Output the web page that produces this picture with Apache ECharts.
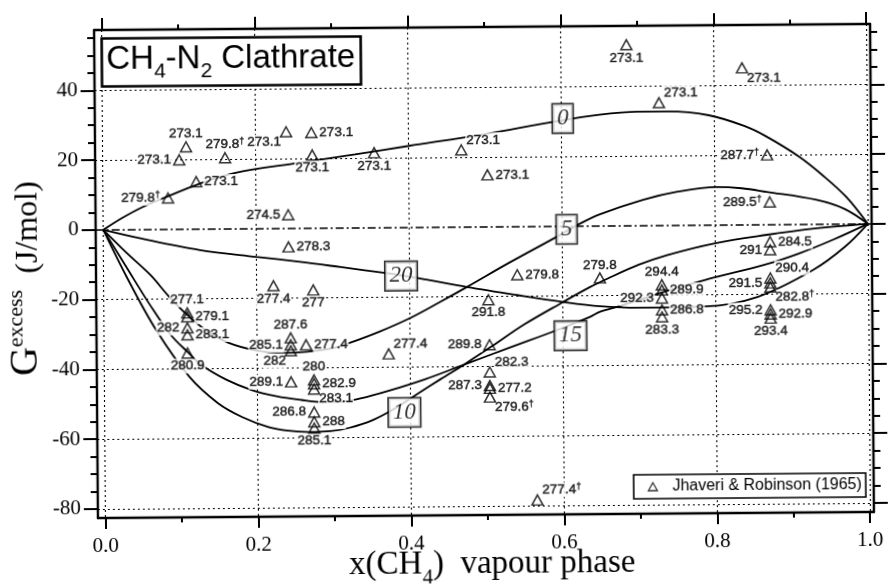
<!DOCTYPE html>
<html>
<head>
<meta charset="utf-8">
<title>CH4-N2 Clathrate</title>
<script src="https://cdn.jsdelivr.net/npm/echarts@6/dist/echarts.min.js"></script>
<style>
  html, body { margin: 0; padding: 0; background: #fff; }
  #chart { width: 888px; height: 585px; transform: rotate(-0.45deg); transform-origin: 485px 271px; }
</style>
</head>
<body>
<div id="chart"></div>
<script>
// ---- model curves: G excess vs vapour composition, one per temperature ----
const curve0 = [[0,0],[0.025,3.4],[0.052,6.5],[0.083,9.3],[0.125,12.9],[0.172,16.0],[0.257,18.8],[0.33,21.1],[0.401,23.4],[0.5,26.6],[0.588,29.9],[0.65,31.9],[0.7,32.7],[0.74,32.7],[0.793,31.5],[0.84,28.3],[0.868,25.3],[0.911,19.4],[0.94,14.3],[0.972,7.8],[1,0]];
const curve5 = [[0,0],[0.03,-6.6],[0.061,-13],[0.085,-19.2],[0.109,-24.6],[0.135,-29.3],[0.162,-32.6],[0.2,-35.0],[0.231,-35.7],[0.265,-35.4],[0.3,-34.4],[0.318,-33.2],[0.36,-29.8],[0.401,-25.9],[0.44,-21.4],[0.475,-17.2],[0.53,-10.4],[0.593,-3.0],[0.62,0.3],[0.649,3.3],[0.706,7.4],[0.75,9.6],[0.802,10.9],[0.835,10.5],[0.868,9.4],[0.933,7.0],[0.97,4.3],[1,0]];
const curve10 = [[0,0],[0.03,-13.5],[0.068,-28.8],[0.111,-42.3],[0.148,-49.9],[0.18,-54],[0.214,-56.9],[0.24,-58],[0.266,-58.4],[0.295,-58.2],[0.32,-57.3],[0.35,-55.2],[0.38,-51.8],[0.41,-47.6],[0.44,-43.5],[0.47,-39.5],[0.506,-34.4],[0.55,-28],[0.6,-21.8],[0.636,-17.5],[0.66,-15],[0.7,-11.2],[0.737,-8.5],[0.8,-5.2],[0.868,-2.9],[0.93,-1.2],[1,0]];
const curve15 = [[0,0],[0.03,-10.8],[0.06,-21.5],[0.087,-30.2],[0.109,-35.2],[0.126,-38.8],[0.16,-43.3],[0.192,-46.2],[0.225,-48.1],[0.257,-49.2],[0.285,-49.8],[0.309,-49.8],[0.335,-48.9],[0.37,-46.9],[0.42,-43.5],[0.47,-39.5],[0.53,-34.7],[0.593,-29.7],[0.636,-26.0],[0.649,-24.6],[0.675,-23.0],[0.73,-19.2],[0.787,-15.7],[0.866,-11.4],[0.91,-8.3],[0.955,-4.4],[1,0]];
const curve20 = [[0,0],[0.05,-2.6],[0.126,-6.0],[0.2,-8.1],[0.257,-9.6],[0.31,-11.2],[0.368,-13.0],[0.41,-14.5],[0.475,-17.2],[0.54,-19.6],[0.601,-21.7],[0.649,-23.0],[0.7,-23.5],[0.787,-23.3],[0.855,-20.7],[0.928,-13.1],[0.97,-6.5],[1,0]];

// curve captions (temperature) and where they sit on their curves
const tempNames = ['0', '5', '10', '15', '20'];
const tempX = [0.602, 0.606, 0.392, 0.61, 0.389];
const tempY = [30.9, -0.9, -53.0, -31.4, -13.9];

// ---- measurements: Jhaveri & Robinson (1965), labelled with T / K ----
const ptX = [0.109,0.100,0.160,0.240,0.122,0.085,0.273,0.274,0.355,0.469,0.503,0.686,0.837,0.728,0.869,0.872,
             0.242,0.242,0.222,0.274,0.109,0.109,0.109,0.109,0.109,0.244,0.244,0.244,0.264,0.244,
             0.274,0.274,0.274,0.274,0.274,0.274,0.372,0.541,0.503,0.504,0.504,0.504,0.504,0.504,0.565,
             0.649,0.730,0.730,0.730,0.730,0.730,0.872,0.872,0.872,0.872,0.872,0.872,0.872,0.872];
const ptY = [23.6,19.9,20.4,27.7,13.6,9.0,27.4,21.0,21.5,22.1,14.9,51.9,45.0,35.2,20.0,6.5,
             3.9,-5.3,-16.4,-17.7,-24.0,-25.1,-28.3,-30.3,-35.5,-31.4,-33.4,-35.1,-33.4,-44.0,
             -43.5,-44.6,-46.1,-52.7,-55.5,-57.3,-36.2,-13.8,-20.9,-33.8,-41.6,-45.5,-46.3,-48.8,-78.4,
             -14.9,-17.0,-18.5,-20.8,-24.2,-26.2,-4.9,-7.2,-15.3,-16.7,-17.9,-24.4,-25.6,-26.8];
const ptT = ['273.1','273.1','279.8†','273.1','273.1','279.8†','273.1','273.1','273.1','273.1','273.1','273.1','273.1','273.1','287.7†','289.5†',
             '274.5','278.3','277.4','277','277.1','279.1','282','283.1','280.9','287.6','285.1','282','277.4','289.1',
             '280','282.9','283.1','286.8','288','285.1','277.4','279.8','291.8','289.8','282.3','287.3','277.2','279.6†','277.4†',
             '279.8','294.4','289.9','292.3','286.8','283.3','284.5','291','290.4','291.5','282.8†','295.2','292.9','293.4'];
// which side of its triangle each temperature label is written on
const ptSide = ['top','left','top','bl','right','left','right','bottom','bottom','tr','right','bottom','br','tr','left','left',
                'left','right','bottom','bottom','top','right','left','right','bottom','top','left','bl','right','left',
                'top','right','br','left','right','bottom','tr','right','bottom','left','tr','left','right','br','tr',
                'top','top','right','left','right','bottom','right','left','tr','left','br','left','right','bottom'];

// axis ticks
const xRange = [-0.01, 1.005];
const yRange = [-82.6, 57.3];
const xMajor = [0, 0.2, 0.4, 0.6, 0.8, 1.0];
const xMinor = [0.1, 0.3, 0.5, 0.7, 0.9];
const yMajor = [-80, -60, -40, -20, 0, 20, 40];
const yMinor = [-75,-70,-65,-55,-50,-45,-35,-30,-25,-15,-10,-5,5,10,15,25,30,35,45,50,55];
const yGrid = [-80, -60, -40, -20, 20, 40];

const SERIF = '"Liberation Serif","Times New Roman",serif';
const SANS = '"Liberation Sans",Arial,Helvetica,sans-serif';
const INK = '#000';

const chart = echarts.init(document.getElementById('chart'), null, { renderer: 'canvas' });

function tickAxis(pos, range, ticks, len, opts) {
  opts = opts || {};
  return {
    type: 'value', position: pos, min: range[0], max: range[1],
    axisLine: { show: !!opts.line, onZero: false, lineStyle: { color: INK, width: 2.4 } },
    axisTick: { show: len > 0, customValues: ticks, length: len, inside: false, lineStyle: { color: INK, width: 2 } },
    axisLabel: opts.label ? Object.assign({ customValues: ticks, color: INK, fontFamily: SERIF, fontSize: 21 }, opts.label) : { show: false },
    splitLine: opts.split ? { show: true, lineStyle: opts.split } : { show: false },
    splitArea: { show: false }
  };
}

const dotted = { color: INK, width: 1.1, type: [2, 3] };
const dashDot = { color: INK, width: 1.5, type: [8, 3, 2, 3] };

const xAxes = [
  tickAxis('bottom', xRange, xMajor, 11, { line: true, label: { formatter: v => v.toFixed(1), margin: 18 }, split: dotted }),
  tickAxis('bottom', xRange, xMinor, 5),
  tickAxis('top', xRange, xMajor, 12, { line: true }),
  tickAxis('top', xRange, xMinor, 5)
];
const yAxes = [
  tickAxis('left', yRange, yMajor, 14, { line: true, label: { margin: 17 } }),
  tickAxis('left', yRange, yMinor, 7),
  tickAxis('right', yRange, yMajor, 14, { line: true }),
  tickAxis('right', yRange, yMinor, 7),
  tickAxis('left', yRange, yGrid, 0, { split: dotted }),
  tickAxis('left', yRange, [0], 0, { split: dashDot })
];

function curveSeries(data) {
  return {
    type: 'line', data: data, smooth: 0.35, showSymbol: false, silent: true, z: 2,
    lineStyle: { color: INK, width: 1.8 }, emphasis: { disabled: true }
  };
}

const placement = {
  right: { position: 'right', distance: 2 },
  left: { position: 'left', distance: 2 },
  top: { position: 'top', distance: 1 },
  bottom: { position: 'bottom', distance: 1 },
  tr: { position: [9, 2], align: 'left', verticalAlign: 'bottom' },
  br: { position: [9, 7], align: 'left', verticalAlign: 'top' },
  bl: { position: [1, 7], align: 'right', verticalAlign: 'top' },
  tl: { position: [1, 2], align: 'right', verticalAlign: 'bottom' }
};
function richLabel(t) {
  return t.endsWith('†') ? '{n|' + t.slice(0, -1) + '}{d|†}' : '{n|' + t + '}';
}

const labelData = ptX.map((x, i) => ({
  value: [x, ptY[i]],
  label: Object.assign({ show: true, formatter: richLabel(ptT[i]) }, placement[ptSide[i]])
}));
const pointData = ptX.map((x, i) => [x, ptY[i]]);

const option = {
  animation: false,
  backgroundColor: '#fff',
  grid: { left: 96, right: 16, top: 27, bottom: 70, containLabel: false },
  xAxis: xAxes,
  yAxis: yAxes,
  title: {
    text: '{a|CH}{s|4}{a|-N}{s|2}{a| Clathrate}',
    left: 103, top: 35,
    padding: [5, 6, 4, 5],
    borderColor: INK, borderWidth: 2.6, backgroundColor: '#fff',
    textStyle: {
      color: INK, fontWeight: 'normal',
      rich: {
        a: { fontFamily: SANS, fontSize: 33, fontWeight: 'normal', lineHeight: 38, color: INK, verticalAlign: 'top' },
        s: { fontFamily: SANS, fontSize: 21, fontWeight: 'normal', lineHeight: 21, color: INK, verticalAlign: 'top', padding: [19, 0, 0, 0] }
      }
    },
    z: 10
  },
  legend: {
    data: ['Jhaveri & Robinson (1965)'],
    left: 632, top: 476,
    padding: [4, 4, 4, 14],
    borderColor: INK, borderWidth: 1.6, backgroundColor: '#fff',
    icon: 'triangle', itemWidth: 9, itemHeight: 8,
    itemStyle: { color: 'rgba(0,0,0,0)', borderColor: INK, borderWidth: 1.3 },
    textStyle: { color: INK, fontFamily: SANS, fontSize: 16, padding: [0, 0, 0, 10] },
    selectedMode: false, z: 10
  },
  graphic: [
    {
      type: 'text', x: 25, y: 275, rotation: Math.PI / 2, z: 10,
      style: {
        text: '{g|G}{e|excess}{u|  (J/mol)}',
        align: 'center', verticalAlign: 'middle', fill: INK,
        rich: {
          g: { fontFamily: SERIF, fontSize: 40, lineHeight: 40, verticalAlign: 'bottom', fill: INK },
          e: { fontFamily: SERIF, fontSize: 22, lineHeight: 40, verticalAlign: 'top', fill: INK },
          u: { fontFamily: SERIF, fontSize: 32, lineHeight: 40, verticalAlign: 'bottom', fill: INK }
        }
      }
    },
    {
      type: 'text', x: 490, y: 566, z: 10,
      style: {
        text: '{a|x(CH}{s|4}{a|)  vapour phase}',
        align: 'center', verticalAlign: 'middle', fill: INK,
        rich: {
          a: { fontFamily: SERIF, fontSize: 33, lineHeight: 36, verticalAlign: 'top', fill: INK },
          s: { fontFamily: SERIF, fontSize: 21, lineHeight: 21, verticalAlign: 'top', padding: [19, 0, 0, 0], fill: INK }
        }
      }
    }
  ],
  series: [
    curveSeries(curve0),
    curveSeries(curve5),
    curveSeries(curve10),
    curveSeries(curve15),
    curveSeries(curve20),
    {
      type: 'scatter', data: labelData, symbol: 'rect', symbolSize: [10, 9], silent: true, z: 3,
      itemStyle: { color: 'rgba(0,0,0,0)', borderWidth: 0 },
      label: {
        show: true, backgroundColor: '#fff', padding: [0, 1],
        rich: {
          n: { fontFamily: SANS, fontSize: 13.5, lineHeight: 15, color: INK, textBorderColor: INK, textBorderWidth: 0.5 },
          d: { fontFamily: SANS, fontSize: 9, lineHeight: 9, color: INK, verticalAlign: 'top', textBorderColor: INK, textBorderWidth: 0.4 }
        }
      },
      labelLayout: { hideOverlap: false },
      emphasis: { disabled: true }
    },
    {
      name: 'Jhaveri & Robinson (1965)',
      type: 'scatter', data: pointData, symbol: 'triangle', symbolSize: [11, 10], silent: true, z: 4,
      itemStyle: { color: 'rgba(0,0,0,0)', borderColor: INK, borderWidth: 1.5 },
      emphasis: { disabled: true }
    },
    {
      type: 'scatter', silent: true, z: 5,
      data: tempNames.map((n, i) => ({ name: n, value: [tempX[i], tempY[i]] })),
      symbolSize: 1, itemStyle: { color: 'rgba(0,0,0,0)' },
      label: {
        show: true, position: 'inside', formatter: '{b}',
        fontFamily: SERIF, fontStyle: 'italic', fontSize: 23, lineHeight: 23, color: INK,
        backgroundColor: '#fff', borderColor: INK, borderWidth: 1.6, padding: [3, 4, 2, 4]
      },
      emphasis: { disabled: true }
    }
  ]
};

chart.setOption(option);
</script>
</body>
</html>
